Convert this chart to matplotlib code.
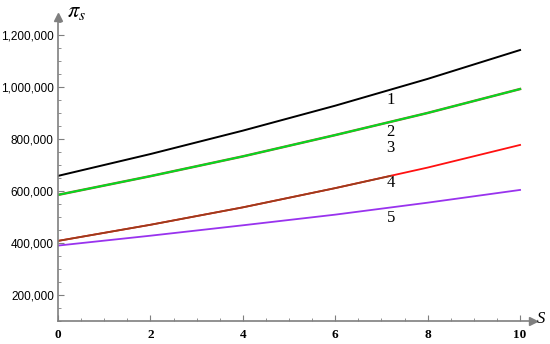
import numpy as np
import matplotlib
matplotlib.use("Agg")
import matplotlib.pyplot as plt
from matplotlib.ticker import FuncFormatter, MultipleLocator

plt.rcParams["mathtext.fontset"] = "stix"

# values
s = [0, 2, 4, 6, 8, 10]
pi1 = [658000, 742000, 832000, 928000, 1031000, 1142000]
pi2 = [585000, 657000, 733000, 815000, 900000, 992000]
pi3 = [408000, 470000, 537000, 611000, 690000, 777000]
s4 = [0, 2, 4, 6, 7.2]
pi4 = [408000, 470000, 537000, 611000, 658000]
pi5 = [390000, 428000, 468000, 509000, 555000, 604000]

labels = ["1", "2", "3", "4", "5"]
label_s = 7.2
label_y = [950000, 827000, 765000, 631000, 496000]

xticks = [0, 2, 4, 6, 8, 10]
yticks = [200000, 400000, 600000, 800000, 1000000, 1200000]

fig = plt.figure(figsize=(5.5, 3.44), dpi=100)
ax = fig.add_axes([58/550, 1-321/344, (533-58)/550, (321-17)/344])

grey = "#7f7f7f"
ax.plot(s, pi2, color="#8a6a2a", lw=1.8)
ax.plot(s, pi2, color="#00dd22", lw=1.3)
ax.plot(s, pi1, color="black", lw=1.4)
ax.plot(s, pi3, color="#ff1010", lw=1.3)
ax.plot(s4, pi4, color="#9a3d1c", lw=1.3)
ax.plot(s, pi5, color="#9933ee", lw=1.3)

for lab, yv in zip(labels, label_y):
    ax.text(label_s, yv, lab, fontsize=12, family="Liberation Serif",
            ha="center", va="center")

ax.set_xlim(0, 10.28)
ax.set_ylim(100000, 1269000)

for sp in ["top", "right"]:
    ax.spines[sp].set_visible(False)
for sp in ["left", "bottom"]:
    ax.spines[sp].set_color(grey)
    ax.spines[sp].set_linewidth(1.2)

# arrow heads
ax.plot(1, 0, ">", color=grey, ms=6, transform=ax.transAxes, clip_on=False)
ax.plot(0, 1, "^", color=grey, ms=6, transform=ax.transAxes, clip_on=False)

ax.set_xticks(xticks)
ax.set_yticks(yticks)
ax.xaxis.set_minor_locator(MultipleLocator(0.5))
ax.yaxis.set_minor_locator(MultipleLocator(50000))
ax.tick_params(which="both", direction="in", color=grey)
ax.tick_params(which="major", length=4)
ax.tick_params(which="minor", length=2.5)
ax.yaxis.set_major_formatter(FuncFormatter(lambda v, p: f"{int(v):,}"))

for t in ax.get_yticklabels():
    t.set_family("Liberation Sans")
    t.set_fontsize(8.5)
    t.set_color("black")
for t in ax.get_xticklabels():
    t.set_family("Liberation Serif")
    t.set_fontweight("bold")
    t.set_fontsize(9.5)
ax.tick_params(axis="x", pad=6)
ax.tick_params(axis="y", pad=3)

fig.text(76/550, 1-12/344, r"$\pi_s$", fontsize=16, ha="center", va="center")
fig.text(541/550, 1-319/344, "S", fontsize=12, style="italic",
         family="Liberation Serif", ha="center", va="center")

fig.savefig("out.png", dpi=100)
